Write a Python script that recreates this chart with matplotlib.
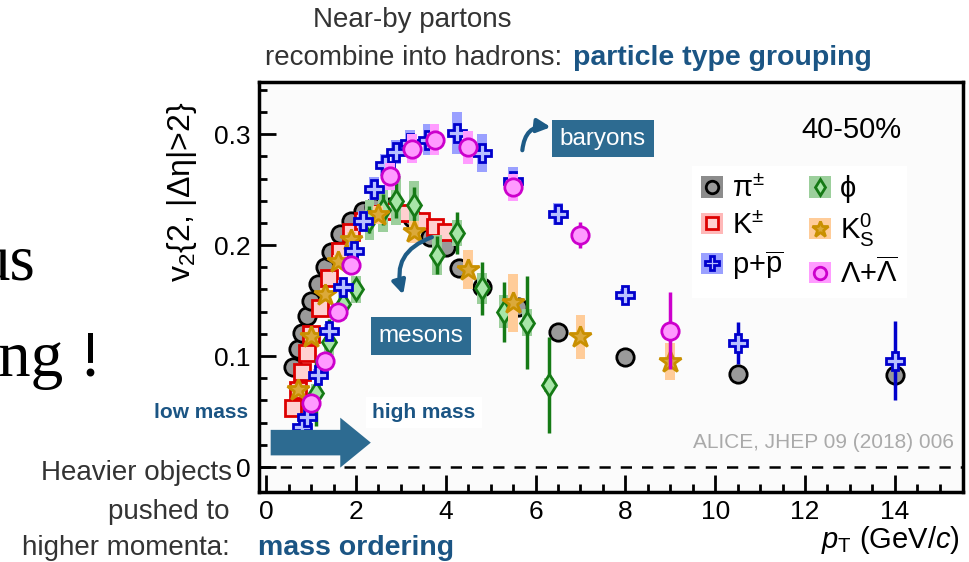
import numpy as np
import matplotlib.pyplot as plt
from matplotlib.patches import Patch, FancyArrow
from matplotlib.lines import Line2D

plt.rcParams['font.family'] = ['Liberation Sans', 'DejaVu Sans']
plt.rcParams['mathtext.fontset'] = 'custom'
plt.rcParams['mathtext.rm'] = 'Liberation Sans'
plt.rcParams['mathtext.it'] = 'Liberation Sans:italic'
plt.rcParams['mathtext.bf'] = 'Liberation Sans:bold'

# --- data (40-50%) ---
pi_pt = [0.6, 0.7, 0.8, 0.9, 1.0, 1.15, 1.3, 1.45, 1.65, 1.9, 2.15, 2.4, 2.75, 3.25,
         3.65, 4.0, 4.3, 4.8, 5.6, 6.5, 8.0, 10.5, 14.0]
pi_v2 = [0.090, 0.106, 0.121, 0.136, 0.150, 0.165, 0.180, 0.194, 0.210, 0.222, 0.231,
         0.234, 0.234, 0.224, 0.207, 0.198, 0.179, 0.162, 0.144, 0.122, 0.099, 0.084, 0.083]
pi_sys = [0.003] * len(pi_pt)
pi_stat = [0.0] * len(pi_pt)

k_pt = [0.6, 0.7, 0.8, 0.9, 1.0, 1.2, 1.4, 1.65, 1.9, 2.15, 2.45, 2.75, 3.1, 3.45, 3.75, 4.0]
k_v2 = [0.053, 0.069, 0.086, 0.103, 0.120, 0.143, 0.170, 0.195, 0.212, 0.222, 0.228,
        0.231, 0.229, 0.222, 0.216, 0.212]
k_sys = [0.005] * len(k_pt)
k_stat = [0.0] * len(k_pt)

p_pt = [0.8, 0.9, 1.15, 1.4, 1.7, 1.95, 2.15, 2.4, 2.65, 2.9, 3.2, 3.6, 4.25, 4.8,
        5.5, 6.5, 8.0, 10.5, 14.0]
p_v2 = [0.036, 0.045, 0.083, 0.123, 0.162, 0.195, 0.222, 0.251, 0.272, 0.284, 0.292,
        0.295, 0.301, 0.283, 0.258, 0.228, 0.155, 0.112, 0.096]
p_sys = [0.004, 0.004, 0.005, 0.006, 0.007, 0.008, 0.009, 0.010, 0.010, 0.011, 0.012,
         0.014, 0.019, 0.017, 0.012, 0.010, 0.005, 0.0, 0.0]
p_stat = [0.0] * 16 + [0.007, 0.019, 0.036]

phi_pt = [1.1, 1.4, 1.7, 2.0, 2.3, 2.6, 2.9, 3.3, 3.8, 4.25, 4.8, 5.3, 5.8, 6.3]
phi_v2 = [0.067, 0.113, 0.147, 0.160, 0.223, 0.232, 0.240, 0.236, 0.191, 0.211, 0.161,
          0.140, 0.130, 0.074]
phi_sys = [0.008, 0.012, 0.014, 0.012, 0.018, 0.020, 0.022, 0.022, 0.018, 0.012, 0.014,
           0.015, 0.012, 0.006]
phi_stat = [0.030, 0.020, 0.012, 0.008, 0.012, 0.014, 0.016, 0.016, 0.017, 0.019, 0.024,
            0.027, 0.042, 0.043]

k0_pt = [0.7, 1.0, 1.3, 1.6, 1.9, 2.5, 3.3, 4.5, 5.5, 7.0, 9.0]
k0_v2 = [0.069, 0.117, 0.155, 0.185, 0.205, 0.227, 0.212, 0.178, 0.148, 0.117, 0.095]
k0_sys = [0.005, 0.005, 0.006, 0.006, 0.007, 0.008, 0.010, 0.018, 0.026, 0.020, 0.017]
k0_stat = [0.0] * 8 + [0.005, 0.004, 0.004]

lam_pt = [1.0, 1.3, 1.6, 1.9, 2.75, 3.25, 3.75, 4.5, 5.5, 7.0, 9.0]
lam_v2 = [0.058, 0.096, 0.140, 0.182, 0.262, 0.287, 0.295, 0.288, 0.252, 0.209, 0.123]
lam_sys = [0.005, 0.005, 0.006, 0.007, 0.012, 0.013, 0.014, 0.015, 0.012, 0.005, 0.0]
lam_stat = [0.0] * 8 + [0.004, 0.012, 0.035]

labels = ['π$^{\\pm}$', 'K$^{\\pm}$', 'p+$\\overline{\\mathrm{p}}$',
          'ϕ', 'K$^{0}_{\\mathrm{S}}$', 'Λ+$\\overline{\\Lambda}$']

fig = plt.figure(figsize=(9.7, 5.62), dpi=100)
ax = fig.add_axes([259 / 970, 1 - 492 / 562, 704 / 970, 410 / 562])
ax.set_facecolor('#fbfbfb')


def draw(pt, v2, stat, sys, marker, ec, fc, boxc, ms, z):
    pt = np.array(pt)
    v2 = np.array(v2)
    sys = np.array(sys)
    ax.bar(pt, 2 * sys, bottom=v2 - sys, width=0.22, color=boxc, zorder=z, lw=0)
    ax.errorbar(pt, v2, yerr=stat, fmt=marker, mec=ec, mfc=fc, ecolor=ec, ms=ms,
                mew=2, elinewidth=2.5, capsize=0, zorder=z + 0.5)
    return (Patch(facecolor=boxc, edgecolor='none'),
            Line2D([], [], marker=marker, ls='none', mec=ec, mfc=fc, ms=ms * 0.72, mew=2))


h_pi = draw(pi_pt, pi_v2, pi_stat, pi_sys, 'o', 'black', '#9a9a9a', '#8c8c8c', 12.5, 3)
h_k = draw(k_pt, k_v2, k_stat, k_sys, 's', '#dd0000', '#ffd0d0', '#ffb8b8', 11.5, 4)
h_phi = draw(phi_pt, phi_v2, phi_stat, phi_sys, 'd', '#157a15', '#a8e6a8', '#9ccf9c', 11.5, 5)
h_k0 = draw(k0_pt, k0_v2, k0_stat, k0_sys, '*', '#c99000', '#dba93a', '#ffcc99', 16.5, 6)
h_p = draw(p_pt, p_v2, p_stat, p_sys, 'P', '#0000cc', '#b8c0ff', '#9aa0ff', 13.5, 7)
h_lam = draw(lam_pt, lam_v2, lam_stat, lam_sys, 'o', '#cc00cc', '#ff99ff', '#ff9cff', 12.5, 8)

ax.axhline(0, color='black', lw=1.8, ls=(0, (4.5, 4)), zorder=1)

ax.set_xlim(-0.16, 15.52)
ax.set_ylim(-0.0225, 0.347)
ax.set_xticks(np.arange(0, 15, 2))
ax.set_xticks(np.arange(0, 15.5, 0.5), minor=True)
ax.set_yticks([0, 0.1, 0.2, 0.3])
ax.set_yticklabels(['0', '0.1', '0.2', '0.3'])
ax.set_yticks(np.arange(0, 0.345, 0.02), minor=True)
ax.tick_params(which='both', direction='in', labelsize=19, width=2, pad=6)
ax.tick_params(which='major', length=12)
ax.tick_params(which='minor', length=6)
for s in ax.spines.values():
    s.set_linewidth(2.5)

leg = ax.legend([h_pi, h_k, h_p, h_phi, h_k0, h_lam], labels, ncol=2, loc='upper left',
                bbox_to_anchor=(0.595, 0.83), fontsize=21, handlelength=0.75,
                handleheight=0.75, handletextpad=0.3, labelspacing=0.3,
                columnspacing=0.9, borderpad=0.3, frameon=True, fancybox=False)
leg.get_frame().set_facecolor('white')
leg.get_frame().set_edgecolor('none')
leg.get_frame().set_alpha(1)

ax.text(0.841, 0.883, '40-50%', transform=ax.transAxes, fontsize=21, ha='center', va='center')
ax.text(0.987, 0.12, 'ALICE, JHEP 09 (2018) 006', transform=ax.transAxes, fontsize=15,
        color='#aaaaaa', ha='right', va='center')

blue = '#2d6b91'
ax.text(7.5, 0.296, 'baryons', color='white', fontsize=17.5, ha='center', va='center',
        bbox=dict(boxstyle='square,pad=0.32', fc=blue, ec='none'), zorder=10)
ax.text(3.45, 0.118, 'mesons', color='white', fontsize=17.5, ha='center', va='center',
        bbox=dict(boxstyle='square,pad=0.32', fc=blue, ec='none'), zorder=10)
ax.annotate('', xy=(6.4, 0.306), xytext=(5.7, 0.283),
            arrowprops=dict(arrowstyle='-|>', color='#1d5b86', lw=3, mutation_scale=20,
                            connectionstyle='arc3,rad=-0.55'), zorder=10)
ax.annotate('', xy=(3.07, 0.153), xytext=(3.75, 0.208),
            arrowprops=dict(arrowstyle='-|>', color='#1d5b86', lw=3, mutation_scale=20,
                            connectionstyle='arc3,rad=0.5'), zorder=10)
ax.add_patch(FancyArrow(0.1, 0.022, 1.55, 0.0, width=0.023, head_width=0.045,
                        head_length=0.68, length_includes_head=False, color=blue, lw=0,
                        zorder=10))
ax.text(2.36, 0.049, 'high mass', color='#1b5584', fontsize=15, fontweight='bold',
        ha='left', va='center', zorder=10,
        bbox=dict(boxstyle='square,pad=0.3', fc='white', ec='none'))

fig.text(182 / 970, 1 - 192 / 562, 'v$_2${2, |Δη|>2}', rotation=90, fontsize=23,
         ha='center', va='center')
fig.text(960 / 970, 1 - 540 / 562, r'$p_{\mathrm{T}}$ (GeV/$c$)', fontsize=21,
         ha='right', va='center')

# slide text around the plot
dark = '#333333'
fig.text(412 / 970, 1 - 20 / 562, 'Near-by partons', fontsize=20, color=dark,
         ha='center', va='center')
fig.text(265 / 970, 1 - 58 / 562, 'recombine into hadrons:', fontsize=20, color=dark,
         ha='left', va='center')
fig.text(573 / 970, 1 - 58 / 562, 'particle type grouping', fontsize=20.5, color='#1b5584',
         fontweight='bold', ha='left', va='center',
         bbox=dict(boxstyle='square,pad=0.2', fc='white', ec='none'))
fig.text(232 / 970, 1 - 473 / 562, 'Heavier objects', fontsize=20, color=dark,
         ha='right', va='center')
fig.text(230 / 970, 1 - 512 / 562, 'pushed to', fontsize=20, color=dark,
         ha='right', va='center')
fig.text(230 / 970, 1 - 548 / 562, 'higher momenta:', fontsize=20, color=dark,
         ha='right', va='center')
fig.text(258 / 970, 1 - 548 / 562, 'mass ordering', fontsize=20.5, color='#1b5584',
         fontweight='bold', ha='left', va='center')
fig.text(201 / 970, 1 - 413 / 562, 'low mass', fontsize=15, color='#1b5584',
         fontweight='bold', ha='center', va='center')
fig.text(35 / 970, 1 - 280 / 562, 'us', fontsize=47, family='Liberation Serif',
         ha='right', va='baseline')
fig.text(101 / 970, 1 - 376 / 562, 'ng !', fontsize=47, family='Liberation Serif',
         ha='right', va='baseline')

fig.savefig('out.png', dpi=100)
